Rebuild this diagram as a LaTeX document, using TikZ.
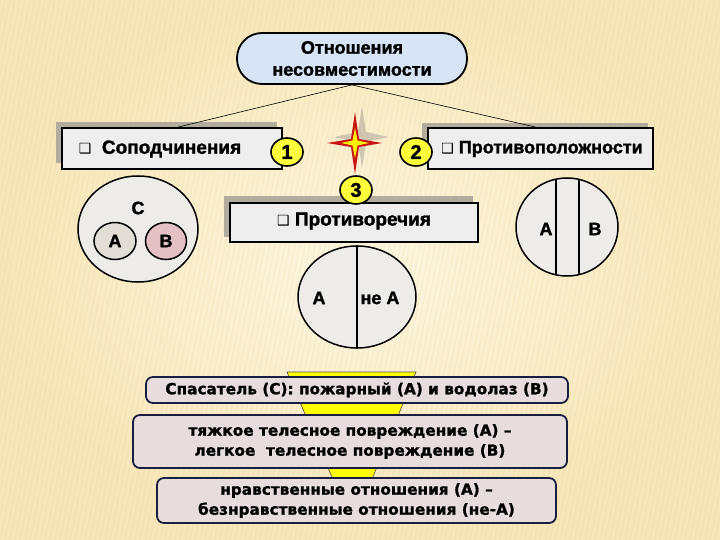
\documentclass[tikz,border=0pt]{standalone}
\usepackage{fontspec}
\setmainfont{Liberation Sans}[BoldFeatures={FakeBold=1.5}]
\newfontfamily\dejab{DejaVu Sans}[BoldFeatures={FakeBold=1.2}]
\newfontfamily\dejasym{DejaVu Sans}
\usetikzlibrary{shapes.geometric,calc}
\definecolor{bgin}{RGB}{253,247,226}
\definecolor{bgout}{RGB}{247,230,185}
\definecolor{stripe}{RGB}{225,190,110}
\definecolor{pillblue}{RGB}{214,228,246}
\definecolor{boxgray}{RGB}{238,238,238}
\definecolor{shadowgray}{RGB}{178,172,158}
\definecolor{numyellow}{RGB}{255,255,60}
\definecolor{starred}{RGB}{200,20,20}
\definecolor{navy}{RGB}{25,30,65}
\definecolor{rosegray}{RGB}{230,221,220}
\definecolor{circlegray}{RGB}{238,236,233}
\definecolor{agray}{RGB}{226,222,214}
\definecolor{bpink}{RGB}{228,192,196}
\definecolor{funnel}{RGB}{255,255,0}
\tikzset{
  lbl/.style={font=\fontsize{19}{22}\selectfont\bfseries},
  sqbox/.style={draw=black, line width=1.8pt, fill=boxgray, inner sep=0pt},
  shadowbox/.style={fill=shadowgray},
  numc/.style={ellipse, draw=black, line width=1.6pt, fill=numyellow, minimum width=32pt, minimum height=28pt, inner sep=0pt, font=\fontsize{20}{22}\selectfont\bfseries},
  setc/.style={ellipse, draw=black, line width=1.5pt, inner sep=0pt},
  setlbl/.style={font=\fontsize{18}{20}\selectfont\bfseries, inner sep=0pt},
  exbox/.style={draw=navy, line width=1.8pt, rounded corners=7pt, fill=rosegray, inner sep=0pt, align=center, font=\dejab\fontsize{15.3}{20}\selectfont\bfseries},
}
\newcommand{\bul}{{\dejasym\fontsize{14}{14}\selectfont ❑}}
\begin{document}
\begin{tikzpicture}[x=1pt,y=-1pt]
\useasboundingbox (0,0) rectangle (720,540);
\shade[inner color=bgin, outer color=bgout] (0,0) rectangle (720,540);
\begin{scope}
\clip (0,0) rectangle (720,540);
\foreach \i in {-120,-115,...,720} {
  \draw[stripe, opacity=0.12, line width=1.2pt] (\i,540) -- (\i+110,0);
}
\end{scope}
% top pill
\node[draw=black, line width=1.8pt, fill=pillblue, rounded corners=25pt, minimum width=230pt, minimum height=51pt, inner sep=0pt, align=center, font=\fontsize{18}{22}\selectfont\bfseries] (top) at (352,58.5) {Отношения\\несовместимости};
% shadows
\fill[shadowbox] (56,122) rectangle (277,163);
\fill[shadowbox] (422,123) rectangle (648,163);
\fill[shadowbox] (224,196) rectangle (473,237);
% boxes
\node[sqbox, minimum width=220pt, minimum height=41pt] (sub) at (172,148.5) {};
\node[lbl] (subt) at (160,149) {\bul\ \ Соподчинения};
\node[sqbox, minimum width=225pt, minimum height=41pt] (opp) at (540.5,148.5) {};
\node[lbl, font=\fontsize{18}{22}\selectfont\bfseries] (oppt) at (542,149) {\bul\ Противоположности};
\node[sqbox, minimum width=248pt, minimum height=39pt] (contr) at (354,222.5) {};
\node[lbl] (contrt) at (354,221) {\bul\ Противоречия};
% connectors
\draw[line width=0.6pt] (top.south) -- ([xshift=6pt]sub.north);
\draw[line width=0.6pt] (top.south) -- ([xshift=-5pt]opp.north);
% star
\fill[gray, opacity=0.35] (362,106) -- (366,132) -- (389,137) -- (366,142) -- (362,168) -- (358,142) -- (334,137) -- (358,132) -- cycle;
\fill[starred] (355,112) -- (359,139) -- (382,143) -- (359,147) -- (355,174) -- (351,147) -- (327,143) -- (351,139) -- cycle;
\fill[yellow] (355,128) -- (357.5,140.5) -- (369,143) -- (357.5,145.5) -- (355,158) -- (352.5,145.5) -- (341,143) -- (352.5,140.5) -- cycle;
% numbers
\node[numc] (n1) at (287,152) {1};
\node[numc] (n2) at (416,152) {2};
\node[numc] (n3) at (356,190) {3};
% set diagrams
\node[setc, fill=circlegray, minimum width=120pt, minimum height=106pt] (cC) at (138,229) {};
\node[setlbl] (lC) at (138,208) {C};
\node[setc, fill=agray, minimum width=42pt, minimum height=37pt] (cA) at (115,241) {};
\node[setlbl] at (cA) (lA) {A};
\node[setc, fill=bpink, minimum width=41pt, minimum height=37pt] (cB) at (166,241) {};
\node[setlbl] at (cB) (lB) {B};
\node[setc, fill=circlegray, minimum width=118pt, minimum height=102pt] (mid) at (357,297) {};
\draw[line width=1.2pt] (mid.north) -- (mid.south);
\node[setlbl] (mA) at (319,298) {A};
\node[setlbl] (mnA) at (380,298) {не A};
\node[setc, fill=circlegray, minimum width=102pt, minimum height=98pt,
  path picture={
    \draw[line width=1.2pt] ([xshift=-11pt]path picture bounding box.north) -- ([xshift=-11pt]path picture bounding box.south);
    \draw[line width=1.2pt] ([xshift=12pt]path picture bounding box.north) -- ([xshift=12pt]path picture bounding box.south);
  }] (rgt) at (567,227) {};
\node[setlbl] (rA) at (546,229) {A};
\node[setlbl] (rB) at (595,229) {B};
% funnel
\filldraw[fill=funnel, draw=black!70, line width=0.6pt] (287,372) -- (416,372) -- (370,484) -- (335,484) -- cycle;
% example boxes
\node[exbox, minimum width=422pt, minimum height=26pt] (e1) at (357,390) {Спасатель (С): пожарный (А) и водолаз (В)};
\node[exbox, minimum width=434pt, minimum height=53pt] (e2) at (350,441.5) {тяжкое телесное повреждение (А) –\\легкое\ \ телесное повреждение (В)};
\node[exbox, minimum width=399pt, minimum height=45pt] (e3) at (356.5,500.5) {нравственные отношения (А) –\\безнравственные отношения (не-А)};
\end{tikzpicture}
\end{document}
